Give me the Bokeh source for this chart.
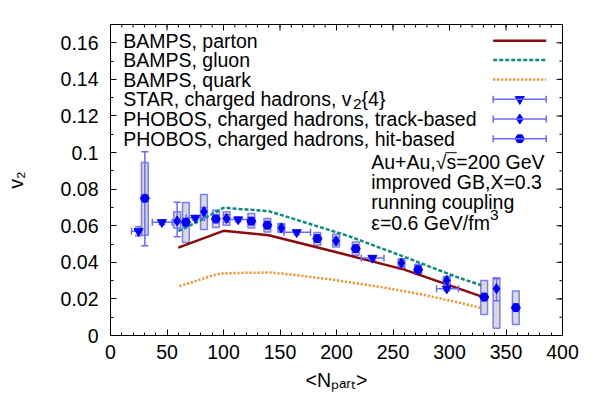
import math
from bokeh.plotting import figure
from bokeh.models import (ColumnDataSource, Label, FixedTicker, Range1d, Arrow, TeeHead)
from bokeh.embed import file_html
from bokeh.resources import INLINE

# ---------------- data ----------------
parton_n = [60, 100, 140, 200, 260, 330]
parton_v = [0.048, 0.0572, 0.0548, 0.0455, 0.036, 0.021]

gluon_n = [60, 80, 100, 140, 210, 260, 308, 328]
gluon_v = [0.057, 0.063, 0.0698, 0.068, 0.0545, 0.043, 0.0316, 0.0275]

quark_n = [61, 71, 80, 89, 97, 120, 142, 159, 177, 195, 204, 239, 275, 309, 327]
quark_v = [0.027, 0.0289, 0.0307, 0.0325, 0.0338, 0.0343, 0.0344, 0.0334, 0.032,
           0.0307, 0.0298, 0.0265, 0.0225, 0.0179, 0.0152]

star_n = [24.8, 45.5, 75, 113, 164.8, 231.8, 297.6]
star_v = [0.057, 0.0619, 0.0643, 0.0634, 0.0564, 0.0424, 0.0256]
star_nlo = [18.6, 37, 67, 104, 153.5, 222, 288.5]
star_nhi = [27.5, 54.6, 83, 122, 177, 242, 308]
star_vlo = [0.0545, 0.0607, 0.0631, 0.0622, 0.0552, 0.0412, 0.0244]
star_vhi = [0.0595, 0.0631, 0.0655, 0.0646, 0.0576, 0.0436, 0.0268]

track_n = [59, 82.7, 102.7, 151.2, 199.6, 257.5, 297.6, 341.6]
track_v = [0.0626, 0.0677, 0.064, 0.0588, 0.0517, 0.0396, 0.0301, 0.0256]
track_slo = [0.054, 0.0655, 0.062, 0.0568, 0.0497, 0.0376, 0.0281, 0.019]
track_shi = [0.0729, 0.0699, 0.066, 0.0608, 0.0537, 0.0416, 0.0321, 0.031]
track_blo = [0.0586, 0.0579, 0.0603, 0.0563, 0.0484, 0.0365, 0.0279, 0.004]
track_bhi = [0.0676, 0.0771, 0.0676, 0.0612, 0.0553, 0.042, 0.0323, 0.0316]

hit_n = [30.4, 66.7, 93.3, 124.6, 138.8, 183, 217, 272.2, 330.7, 358.7]
hit_v = [0.075, 0.0619, 0.0637, 0.0625, 0.0603, 0.053, 0.0475, 0.036, 0.021, 0.0152]
hit_slo = [0.049, 0.0599, 0.0617, 0.0605, 0.0583, 0.051, 0.0455, 0.034, 0.019, 0.0132]
hit_shi = [0.1005, 0.0639, 0.0657, 0.0645, 0.0623, 0.055, 0.0495, 0.038, 0.023, 0.0172]
hit_blo = [0.0548, 0.0508, 0.059, 0.0588, 0.0566, 0.0493, 0.0438, 0.0334, 0.0115, 0.006]
hit_bhi = [0.0946, 0.0727, 0.0685, 0.0667, 0.0639, 0.0563, 0.0511, 0.0389, 0.0301, 0.0243]

x_ticks = [0, 50, 100, 150, 200, 250, 300, 350, 400]
x_minor = list(range(0, 401, 10))
y_ticks = [0, 0.02, 0.04, 0.06, 0.08, 0.1, 0.12, 0.14, 0.16]
y_minor = [i / 100 for i in range(0, 18)]
y_tick_labels = ["0", "0.02", "0.04", "0.06", "0.08", "0.1", "0.12", "0.14", "0.16"]

x_title = "<N\u209a\u2090\u1d63\u209c>"
y_title = "v\u2082"
legend_labels = ["BAMPS, parton", "BAMPS, gluon", "BAMPS, quark",
                 "STAR, charged hadrons, v", "PHOBOS, charged hadrons, track-based",
                 "PHOBOS, charged hadrons, hit-based"]
info_lines = ["Au+Au,\u221as=200 GeV", "improved GB,X=0.3", "running coupling", "\u03b5=0.6 GeV/fm"]

# ---------------- style ----------------
FONT = "Liberation Sans"
FS = 19.5
SUBFS = 15.5
C_PARTON = "#8b0a0a"
C_GLUON = "#0f8c82"
C_QUARK = "#ff8a1e"
C_BLUE = "#0000ff"
C_ERR = "#6a6aff"
C_BOX_LINE = "#6a6aff"
C_BOX_FILL = "#d9d9d9"

X0, X1 = 0, 400
Y0, Y1 = 0, 0.17
FW, FH = 452, 311
# canvas position of the frame
PL, PT = 110, 24

def fx(px):
    return X0 + (px - PL) / FW * (X1 - X0)

def fy(py):
    return Y0 + (PT + FH - py) / FH * (Y1 - Y0)

def dxp(npx):
    return npx / FW * (X1 - X0)

def dyp(npx):
    return npx / FH * (Y1 - Y0)

AW = {' ': 278, ',': 278, '.': 278, '<': 584, '>': 584, '{': 334, '}': 334, '=': 584,
      '+': 584, '/': 278, '-': 333, '\u221a': 549, '\u03b5': 446}
for d in "0123456789":
    AW[d] = 556
AW.update({'A': 667, 'B': 667, 'C': 722, 'D': 722, 'E': 667, 'G': 778, 'H': 722, 'M': 833,
           'N': 722, 'O': 778, 'P': 667, 'R': 722, 'S': 667, 'T': 611, 'V': 667, 'X': 667,
           'a': 556, 'b': 556, 'c': 500, 'd': 556, 'e': 556, 'f': 278, 'g': 556, 'h': 556,
           'i': 222, 'k': 500, 'l': 222, 'm': 833, 'n': 556, 'o': 556, 'p': 556, 'r': 333,
           's': 500, 't': 278, 'u': 556, 'v': 500})

def tw(s, size):
    return sum(AW.get(c, 556) for c in s) / 1000.0 * size

p = figure(frame_width=FW, frame_height=FH,
           x_range=Range1d(X0, X1), y_range=Range1d(Y0, Y1),
           output_backend="svg", toolbar_location=None,
           min_border_left=PL, min_border_right=30, min_border_top=PT,
           min_border_bottom=76,
           background_fill_color="white", border_fill_color="white",
           outline_line_color="black", outline_line_width=1)
p.xgrid.visible = False
p.ygrid.visible = False

xt = FixedTicker(ticks=x_ticks, minor_ticks=x_minor)
yt = FixedTicker(ticks=y_ticks, minor_ticks=y_minor)

for ax, ticker in ((p.xaxis[0], xt), (p.yaxis[0], yt)):
    ax.ticker = ticker
    ax.major_tick_in = 6
    ax.major_tick_out = 0
    ax.minor_tick_in = 3
    ax.minor_tick_out = 0
    ax.axis_line_color = "black"
    ax.major_tick_line_color = "black"
    ax.minor_tick_line_color = "black"
    ax.major_label_text_font = FONT
    ax.major_label_text_font_size = f"{FS}px"
    ax.major_label_text_color = "black"
    ax.axis_label_text_font = FONT
    ax.axis_label_text_font_size = f"{FS}px"
    ax.axis_label_text_font_style = "normal"
    ax.axis_label_text_color = "black"
p.xaxis[0].major_label_standoff = 9
p.yaxis[0].major_label_standoff = 12
p.yaxis[0].major_label_overrides = {t: s for t, s in zip(y_ticks, y_tick_labels)}
p.xaxis[0].axis_label = x_title
p.xaxis[0].axis_label_standoff = 7
p.yaxis[0].axis_label = y_title
p.yaxis[0].axis_label_standoff = 31

# mirrored inward ticks on the top and right edges (gnuplot style)
major_len, minor_len = 6, 3
top_src = ColumnDataSource(dict(
    x=x_ticks + x_minor,
    y0=[Y1] * (len(x_ticks) + len(x_minor)),
    y1=[Y1 - dyp(major_len)] * len(x_ticks) + [Y1 - dyp(minor_len)] * len(x_minor)))
p.segment(x0="x", y0="y0", x1="x", y1="y1", source=top_src, line_color="black", line_width=1)
right_src = ColumnDataSource(dict(
    y=y_ticks + y_minor,
    x0=[X1] * (len(y_ticks) + len(y_minor)),
    x1=[X1 - dxp(major_len)] * len(y_ticks) + [X1 - dxp(minor_len)] * len(y_minor)))
p.segment(x0="x0", y0="y", x1="x1", y1="y", source=right_src, line_color="black", line_width=1)

# ---------------- PHOBOS systematic boxes ----------------
track_src = ColumnDataSource(dict(n=track_n, v=track_v, slo=track_slo, shi=track_shi,
                                  blo=track_blo, bhi=track_bhi))
hit_src = ColumnDataSource(dict(n=hit_n, v=hit_v, slo=hit_slo, shi=hit_shi,
                                blo=hit_blo, bhi=hit_bhi))
star_src = ColumnDataSource(dict(n=star_n, v=star_v, nlo=star_nlo, nhi=star_nhi,
                                 vlo=star_vlo, vhi=star_vhi))

for src in (track_src, hit_src):
    p.vbar(x="n", width=6, bottom="blo", top="bhi", source=src,
           fill_color=C_BOX_FILL, line_color=C_BOX_LINE, line_width=1.5, line_alpha=0.85)

# ---------------- BAMPS curves ----------------
p.line(parton_n, parton_v, line_color=C_PARTON, line_width=2.5)
p.line(gluon_n, gluon_v, line_color=C_GLUON, line_width=2.5, line_dash="4 2")
p.line(quark_n, quark_v, line_color=C_QUARK, line_width=2.5, line_dash="2 2")

# ---------------- error bars ----------------
for src in (track_src, hit_src):
    p.segment(x0="n", y0="slo", x1="n", y1="shi", source=src, line_color=C_ERR, line_width=1.5)
    p.scatter(x="n", y="slo", marker="dash", size=7, source=src, line_color=C_ERR, line_width=1.5)
    p.scatter(x="n", y="shi", marker="dash", size=7, source=src, line_color=C_ERR, line_width=1.5)

p.segment(x0="nlo", y0="v", x1="nhi", y1="v", source=star_src, line_color=C_ERR, line_width=1.5)
p.segment(x0="n", y0="vlo", x1="n", y1="vhi", source=star_src, line_color=C_ERR, line_width=1.5)
p.scatter(x="nlo", y="v", marker="dash", angle=math.pi / 2, size=7, source=star_src,
          line_color=C_ERR, line_width=1.5)
p.scatter(x="nhi", y="v", marker="dash", angle=math.pi / 2, size=7, source=star_src,
          line_color=C_ERR, line_width=1.5)
p.scatter(x="n", y="vlo", marker="dash", size=7, source=star_src, line_color=C_ERR, line_width=1.5)
p.scatter(x="n", y="vhi", marker="dash", size=7, source=star_src, line_color=C_ERR, line_width=1.5)

# ---------------- markers ----------------
p.scatter(x="n", y="v", marker="inverted_triangle", size=9, source=star_src,
          fill_color=C_BLUE, line_color=C_BLUE)
p.scatter(x="n", y="v", marker="diamond", size=10, source=track_src,
          fill_color=C_BLUE, line_color=C_BLUE)
p.scatter(x="n", y="v", marker="hex", size=9, source=hit_src,
          fill_color=C_BLUE, line_color=C_BLUE)

# ---------------- legend (gnuplot style: text left, sample right) ----------------
def label(x, y, text, size=FS, **kw):
    p.add_layout(Label(x=x, y=y, text=text, text_font=FONT, text_font_size=f"{size}px",
                       text_color="black", text_baseline="middle", **kw))

row_y = [40.3, 59.5, 79.0, 98.7, 118.5, 138.2]
TX = 122.7
S0, S1, SM = 492.7, 545.7, 519.3
for txt, ry in zip(legend_labels, row_y):
    label(fx(TX), fy(ry), txt)
star_w = tw(legend_labels[3], FS)
label(fx(TX + star_w), fy(row_y[3] + 5), "2", size=SUBFS)
label(fx(TX + star_w + tw("2", SUBFS)), fy(row_y[3]), "{4}")

sample_styles = [(C_PARTON, "solid"), (C_GLUON, "4 2"), (C_QUARK, "2 2")]
for (col, dash), ry in zip(sample_styles, row_y[:3]):
    p.add_layout(Arrow(end=None, x_start=fx(S0), y_start=fy(ry), x_end=fx(S1), y_end=fy(ry),
                       line_color=col, line_width=2.5, line_dash=dash))
for ry in row_y[3:]:
    p.add_layout(Arrow(start=TeeHead(size=7, line_color=C_ERR, line_width=1.5),
                       end=TeeHead(size=7, line_color=C_ERR, line_width=1.5),
                       x_start=fx(S0), y_start=fy(ry), x_end=fx(S1), y_end=fy(ry),
                       line_color=C_ERR, line_width=1.5))
leg_src = ColumnDataSource(dict(x=[fx(SM)] * 3, y=[fy(r) for r in row_y[3:]],
                                m=["inverted_triangle", "diamond", "hex"], s=[9, 10, 9]))
p.scatter(x="x", y="y", marker="m", size="s", source=leg_src,
          fill_color=C_BLUE, line_color=C_BLUE)

# ---------------- info text ----------------
info_y = [161.7, 181.7, 201.3, 222.2]
IX = 370.7
for txt, iy in zip(info_lines, info_y):
    label(fx(IX), fy(iy), txt)
ov0 = IX + tw("Au+Au,\u221a", FS) - 1
ov1 = IX + tw("Au+Au,\u221as", FS) + 0.5
p.add_layout(Arrow(end=None, x_start=fx(ov0), y_start=fy(info_y[0] - 9.5),
                   x_end=fx(ov1), y_end=fy(info_y[0] - 9.5), line_color="black", line_width=1))
label(fx(IX + tw(info_lines[3], FS)), fy(info_y[3] - 8), "3", size=SUBFS)

open("out.html", "w").write(file_html(p, INLINE))
